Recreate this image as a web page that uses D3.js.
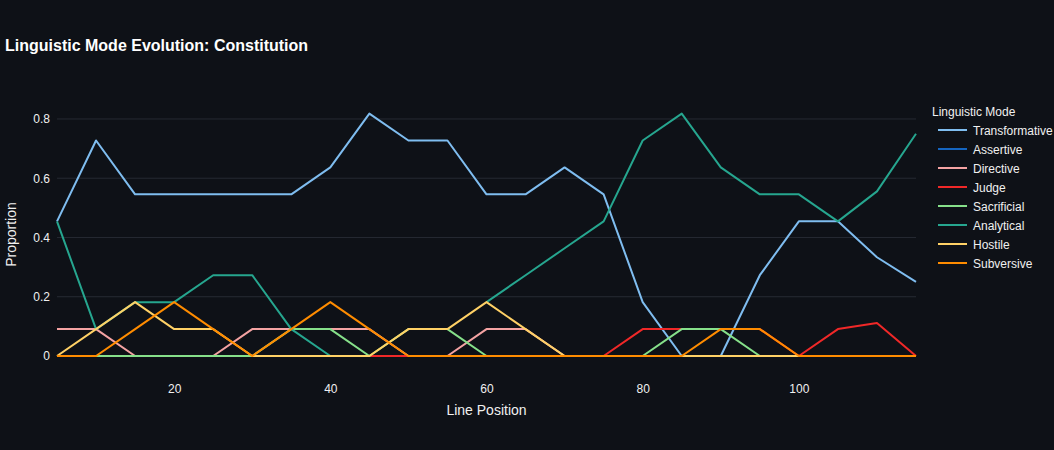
<!DOCTYPE html>
<html>
<head>
<meta charset="utf-8">
<script src="https://cdn.jsdelivr.net/npm/d3@7"></script>
<style>
  html, body { margin: 0; padding: 0; background: #0e1117; }
  svg { display: block; font-family: "Liberation Sans", Arial, Helvetica, sans-serif; }
</style>
</head>
<body>
<svg id="chart" width="1054" height="450"></svg>
<script>
const positions = [5,10,15,20,25,30,35,40,45,50,55,60,65,70,75,80,85,90,95,100,105,110,115];
const modes = ["Transformative","Assertive","Directive","Judge","Sacrificial","Analytical","Hostile","Subversive"];
const colors = ["#7fbdf0","#1565c0","#f4a3a3","#f02828","#86e08a","#26a68f","#ffd166","#ff8c00"];

const transformative = [0.4545,0.7273,0.5455,0.5455,0.5455,0.5455,0.5455,0.6364,0.8182,0.7273,0.7273,0.5455,0.5455,0.6364,0.5455,0.1818,0,0,0.2727,0.4545,0.4545,0.3333,0.25];
const assertive      = [0,0,0,0,0,0,0,0,0,0,0,0,0,0,0,0,0,0,0,0,0,0,0];
const directive      = [0.0909,0.0909,0,0,0,0.0909,0.0909,0.0909,0.0909,0,0,0.0909,0.0909,0,0,0,0,0,0,0,0,0,0];
const judge          = [0,0,0,0,0,0,0,0,0,0,0,0,0,0,0,0.0909,0.0909,0.0909,0.0909,0,0.0909,0.1111,0];
const sacrificial    = [0,0,0,0,0,0,0.0909,0.0909,0,0.0909,0.0909,0,0,0,0,0,0.0909,0.0909,0,0,0,0,0];
const analytical     = [0.4545,0.0909,0.1818,0.1818,0.2727,0.2727,0.0909,0,null,null,null,0.1818,0.2727,0.3636,0.4545,0.7273,0.8182,0.6364,0.5455,0.5455,0.4545,0.5556,0.75];
const hostile        = [0,0.0909,0.1818,0.0909,0.0909,0,0,0,0,0.0909,0.0909,0.1818,0.0909,0,0,0,0,0,0,0,0,0,0];
const subversive     = [0,0,0.0909,0.1818,0.0909,0,0.0909,0.1818,0.0909,0,0,0,0,0,0,0,0,0.0909,0.0909,0,0,0,0];

const seriesValues = [transformative, assertive, directive, judge, sacrificial, analytical, hostile, subversive];

const xTicks = [20,40,60,80,100];
const yTicks = [0,0.2,0.4,0.6,0.8];
const yTickLabels = ["0","0.2","0.4","0.6","0.8"];

const svg = d3.select("#chart");
const W = 1054, H = 450;
const m = {left: 57, right: 138, top: 100, bottom: 94};

svg.append("rect").attr("width", W).attr("height", H).attr("fill", "#0e1117");

const x = d3.scaleLinear().domain([5,115]).range([m.left, W - m.right]);
const y = d3.scaleLinear().domain([0,0.864]).range([H - m.bottom, m.top]);

// gridlines
svg.append("g").selectAll("line").data(yTicks.filter(d => d > 0)).join("line")
  .attr("x1", m.left).attr("x2", W - m.right)
  .attr("y1", d => y(d)).attr("y2", d => y(d))
  .attr("stroke", "#262a33").attr("stroke-width", 1);

// y axis
const yAxis = d3.axisLeft(y).tickValues(yTicks).tickFormat((d,i) => yTickLabels[i]).tickSize(0).tickPadding(7);
const gy = svg.append("g").attr("transform", `translate(${m.left},0)`).call(yAxis);
gy.select(".domain").remove();
gy.selectAll("text").attr("fill", "#f0f0f0").attr("font-size", 12).attr("font-family", "Liberation Sans, Arial, sans-serif");

// x axis
const xAxis = d3.axisBottom(x).tickValues(xTicks).tickSize(0).tickPadding(28);
const gx = svg.append("g").attr("transform", `translate(0,${H - m.bottom})`).call(xAxis);
gx.select(".domain").remove();
gx.selectAll("text").attr("fill", "#f0f0f0").attr("font-size", 12).attr("font-family", "Liberation Sans, Arial, sans-serif");

// lines
const line = d3.line().defined(d => d !== null).x((d,i) => x(positions[i])).y(d => y(d));
const gl = svg.append("g");
seriesValues.forEach((vals, k) => {
  gl.append("path").datum(vals)
    .attr("d", line)
    .attr("fill", "none")
    .attr("stroke", colors[k])
    .attr("stroke-width", 2)
    .attr("stroke-linejoin", "round");
});

// title
svg.append("text").attr("x", 5).attr("y", 51)
  .attr("fill", "#ffffff").attr("font-size", 16).attr("font-weight", "bold")
  .text("Linguistic Mode Evolution: Constitution");

// axis titles
svg.append("text").attr("x", (m.left + W - m.right)/2).attr("y", 415)
  .attr("text-anchor", "middle").attr("fill", "#f0f0f0").attr("font-size", 14)
  .text("Line Position");
svg.append("text").attr("transform", `translate(16,${y(0.41)}) rotate(-90)`)
  .attr("text-anchor", "middle").attr("fill", "#f0f0f0").attr("font-size", 14)
  .text("Proportion");

// legend
const lg = svg.append("g");
lg.append("text").attr("x", 932).attr("y", 116).attr("fill", "#f0f0f0").attr("font-size", 12)
  .text("Linguistic Mode");
modes.forEach((name, i) => {
  const yy = 130 + i * 19;
  lg.append("line").attr("x1", 938).attr("x2", 967).attr("y1", yy).attr("y2", yy)
    .attr("stroke", colors[i]).attr("stroke-width", 2);
  lg.append("text").attr("x", 973).attr("y", yy + 4.5).attr("fill", "#f0f0f0").attr("font-size", 12)
    .text(name);
});
</script>
</body>
</html>
